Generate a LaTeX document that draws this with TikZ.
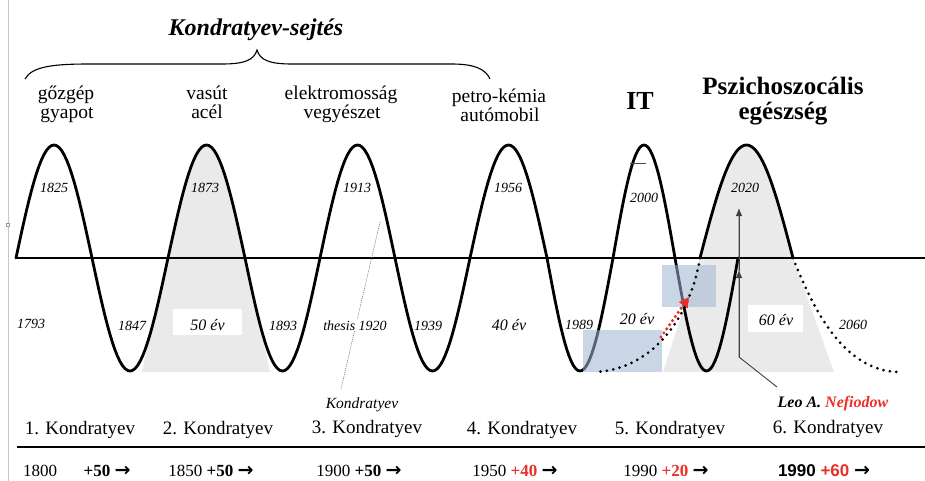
\documentclass[tikz,border=0pt]{standalone}
\usepackage{fontspec}
\setmainfont{Liberation Serif}
\newfontfamily\sansfam{Liberation Sans}
\newfontfamily\arrowfam{DejaVu Sans}
\newcommand{\rarr}{{\arrowfam\bfseries\fontsize{19}{19}\selectfont →}}
\usetikzlibrary{arrows.meta}
\definecolor{boxblue}{RGB}{160,182,208}
\definecolor{redtxt}{RGB}{232,48,40}
\definecolor{humpgray}{RGB}{234,234,234}
\begin{document}
\begin{tikzpicture}[x=1pt,y=-1pt,
  wave/.style={line width=2.8pt, line cap=round, line join=round},
  dotcurve/.style={line width=3pt, line cap=round, dash pattern=on 0pt off 6.5pt},
  redarrow/.style={draw=redtxt, line width=3.4pt, line cap=round, dash pattern=on 0pt off 5pt, -{Triangle[length=10pt,width=10pt]}},
  yearlbl/.style={font=\fontsize{14}{16}\selectfont\itshape, inner sep=0pt, anchor=base},
  evlbl/.style={font=\fontsize{16}{18}\selectfont\itshape, inner sep=0pt, anchor=base},
  evbox/.style={fill=white, inner sep=0pt},
  techlbl/.style={font=\fontsize{19.5}{20}\selectfont, inner sep=0pt, anchor=base},
  kondlbl/.style={font=\fontsize{19}{21}\selectfont, inner sep=0pt, anchor=base},
  bottomlbl/.style={font=\fontsize{17}{19}\selectfont, inner sep=0pt, anchor=base},
  humpfill/.style={fill=humpgray},
  bluebox/.style={fill=boxblue, fill opacity=0.55},
  leoline/.style={draw=black!75, line width=0.9pt},
  leotip/.style={-{Triangle[length=7pt,width=6pt]}},
]
\useasboundingbox (0,0) rectangle (925,481);
\fill[white] (0,0) rectangle (925,481);

% left border of the frame
\draw[black!22, line width=0.8pt] (8,0) -- (8,481);
\draw[black!40, fill=white, line width=0.5pt] (6.5,223.5) rectangle (9.5,226.5);

% title and brace
\node[font=\fontsize{24}{26}\selectfont\bfseries\itshape, inner sep=0pt, anchor=base] (title) at (256,36) {Kondratyev-sejtés};
\coordinate (braceL) at (25,79);
\coordinate (braceTip) at (257,50);
\coordinate (braceR) at (490,79);
\draw[line width=1.1pt] (braceL) .. controls (32,66) and (55,64) .. (90,64) -- (222,64)
   .. controls (245,64) and (254,60) .. (braceTip)
   .. controls (260,60) and (269,64) .. (292,64) -- (452,64)
   .. controls (476,64) and (486,70) .. (braceR);

% technology labels
\node[techlbl] (t1a) at (66,100) {gőzgép};
\node[techlbl] (t1b) at (67,119) {gyapot};
\node[techlbl] (t2a) at (207,100) {vasút};
\node[techlbl] (t2b) at (207,119) {acél};
\node[techlbl] (t3a) at (341,100) {elektromosság};
\node[techlbl] (t3b) at (342,119) {vegyészet};
\node[techlbl] (t4a) at (499,103) {petro-kémia};
\node[techlbl] (t4b) at (500,122) {autómobil};
\node[font=\fontsize{26}{28}\selectfont\bfseries, inner sep=0pt, anchor=base] (it) at (640,110) {IT};
\node[font=\fontsize{25}{27}\selectfont\bfseries, inner sep=0pt, anchor=base] (psz1) at (783,95) {Pszichoszocális};
\node[font=\fontsize{25}{27}\selectfont\bfseries, inner sep=0pt, anchor=base] (psz2) at (783,120) {egészség};

% grey humps
\fill[humpfill] (142,372) -- (168,258) -- plot[domain=0:180,samples=31] ({168+\x/180*77},{258-113*sin(\x)}) -- (270,372) -- cycle;
\fill[humpfill] (663,372) -- (700,258) -- plot[domain=0:180,samples=31] ({700+\x/180*93},{258-113*sin(\x)}) -- (834,372) -- cycle;

% axis
\coordinate (axisL) at (15,258);
\coordinate (axisR) at (925,258);
\draw[line width=1.4pt] (axisL) -- (axisR);

% thesis line
\coordinate (thA) at (380,222);
\coordinate (thB) at (341,389);
\draw[black!55, line width=0.6pt, dash pattern=on 1pt off 1pt] (thA) -- (thB);

% main wave
\draw[wave] (16,258) \foreach \a/\b/\s in {16/92/1, 92/168/-1, 168/245/1, 245/320/-1, 320/395/1, 395/470/-1, 470/547/1, 547/613/-1, 613/675/1, 675/738/-1}{
  -- plot[domain=0:180,samples=31] ({\a+\x/180*(\b-\a)},{258-(\s)*113*sin(\x)}) };
% sixth hump
\draw[wave] plot[domain=0:180,samples=41] ({700+\x/180*93},{258-113*sin(\x)});

% tick near 2000
\draw[black!70, line width=1pt] (630,164) -- (646,164);

% blue boxes
\fill[bluebox] (583,330) rectangle (662,372);
\fill[bluebox] (662,265) rectangle (716,307);

% dotted continuations
\coordinate (d6L) at (700,258);
\coordinate (d6Lend) at (595,372);
\coordinate (d6R) at (793,258);
\coordinate (d6Rend) at (900,372);
\draw[dotcurve] (d6L) .. controls (690,320) and (650,370) .. (d6Lend);
\draw[dotcurve] (d6R) .. controls (810,300) and (840,372) .. (d6Rend);

% red arrow
\coordinate (rs) at (661,337);
\coordinate (re) at (689,297);
\draw[redarrow] (rs) -- (re);

% Nefiodow pointer
\coordinate (leoStart) at (777,387);
\coordinate (leoBend) at (739,357);
\coordinate (leoMid) at (739,271);
\coordinate (leoTop) at (739,209);
\draw[leoline] (leoStart) -- (leoBend) -- (leoTop);
\draw[leoline, leotip] (leoBend) -- (leoMid);
\draw[leoline, leotip] (leoMid) -- (leoTop);

% year labels (upper)
\node[yearlbl] (y1825) at (54,193) {1825};
\node[yearlbl] (y1873) at (205,193) {1873};
\node[yearlbl] (y1913) at (357,193) {1913};
\node[yearlbl] (y1956) at (508,193) {1956};
\node[yearlbl] (y2000) at (644,202) {2000};
\node[yearlbl] (y2020) at (745,193) {2020};

% year labels (lower)
\node[yearlbl] (y1793) at (31,328) {1793};
\node[yearlbl] (y1847) at (132,330) {1847};
\node[evbox, minimum width=69pt, minimum height=26pt] (b50) at (207.5,322) {};
\node[evlbl] (e50) at (207.5,330) {50 év};
\node[yearlbl] (y1893) at (283,330) {1893};
\node[yearlbl, fill=white, inner sep=1pt] (y1920) at (355,330) {thesis 1920};
\node[yearlbl] (y1939) at (428,330) {1939};
\node[evlbl] (e40) at (509,330) {40 év};
\node[yearlbl] (y1989) at (579,329) {1989};
\node[evbox, minimum width=50pt, minimum height=18pt] (b20) at (636,320) {};
\node[evlbl] (e20) at (637,324) {20 év};
\node[evbox, minimum width=55pt, minimum height=27pt] (b60) at (775.5,318.5) {};
\node[evlbl] (e60) at (776,325) {60 év};
\node[yearlbl] (y2060) at (853,329) {2060};

% small labels
\node[font=\fontsize{15.5}{17}\selectfont\itshape, inner sep=0pt, anchor=base] (ksmall) at (362,408) {Kondratyev};
\node[font=\fontsize{16}{18}\selectfont\bfseries\itshape, inner sep=0pt, anchor=base] (leo) at (833,407) {Leo A. \textcolor{redtxt}{Nefiodow}};

% Kondratyev row
\node[kondlbl] (k1) at (80,434) {1. Kondratyev};
\node[kondlbl] (k2) at (218,434) {2. Kondratyev};
\node[kondlbl] (k3) at (367,433) {3. Kondratyev};
\node[kondlbl] (k4) at (522,434) {4. Kondratyev};
\node[kondlbl] (k5) at (670,434) {5. Kondratyev};
\node[kondlbl] (k6) at (828,433) {6. Kondratyev};

\coordinate (sepL) at (17,447);
\coordinate (sepR) at (925,447);
\draw[line width=1.2pt] (sepL) -- (sepR);

% bottom row
\node[bottomlbl] (p0) at (40,476) {1800};
\node[bottomlbl] (p0b) at (107,476) {\textbf{+50} \rarr};
\node[bottomlbl] (p1) at (211,476) {1850 \textbf{+50} \rarr};
\node[bottomlbl] (p2) at (359,476) {1900 \textbf{+50} \rarr};
\node[bottomlbl] (p3) at (515,476) {1950 \textcolor{redtxt}{\textbf{+40}} \rarr};
\node[bottomlbl] (p4) at (666,476) {1990 \textcolor{redtxt}{\textbf{+20}} \rarr};
\node[bottomlbl, font=\sansfam\fontsize{17}{19}\selectfont\bfseries] (p5) at (824,476) {1990 \textcolor{redtxt}{+60} \rarr};
\end{tikzpicture}
\end{document}
